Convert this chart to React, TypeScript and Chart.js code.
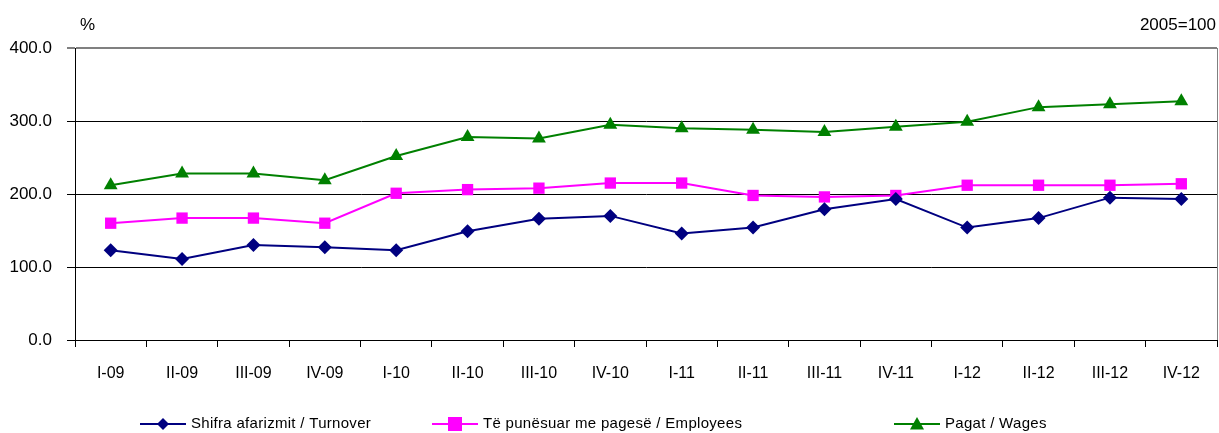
import React, { useEffect, useRef } from "react";
import { Chart, registerables } from "chart.js";

Chart.register(...registerables);

const categories = ["I-09", "II-09", "III-09", "IV-09", "I-10", "II-10", "III-10", "IV-10", "I-11", "II-11", "III-11", "IV-11", "I-12", "II-12", "III-12", "IV-12"];
const turnover = [123, 111, 130, 127, 123, 149, 166, 170, 146, 154, 179, 193, 154, 167, 195, 193];
const employees = [160, 167, 167, 160, 201, 206, 208, 215, 215, 198, 196, 198, 212, 212, 212, 214];
const wages = [212, 228, 228, 219, 252, 278, 276, 295, 290, 288, 285, 292, 299, 319, 323, 327];
const seriesNames = ["Shifra afarizmit / Turnover", "Të punësuar me pagesë / Employees", "Pagat / Wages"];
const yTicks = [0, 100, 200, 300, 400];

const FONT = "'Liberation Sans', Arial, sans-serif";

export default function App() {
  const ref = useRef<HTMLCanvasElement | null>(null);
  useEffect(() => {
    document.body.style.margin = "0";
    const canvas = ref.current!;
    function drawMarker(ctx: CanvasRenderingContext2D, style: string, x: number, y: number, r: number, color: string) {
      ctx.fillStyle = color;
      ctx.beginPath();
      if (style === "rectRot") {
        ctx.moveTo(x, y - r);
        ctx.lineTo(x + r, y);
        ctx.lineTo(x, y + r);
        ctx.lineTo(x - r, y);
      } else if (style === "rect") {
        ctx.rect(x - r, y - r, 2 * r, 2 * r);
      } else {
        ctx.moveTo(x, y - r);
        ctx.lineTo(x + r, y + r * 0.8);
        ctx.lineTo(x - r, y + r * 0.8);
      }
      ctx.closePath();
      ctx.fill();
    }
    const extras = {
      id: "extras",
      afterDraw(chart: any) {
        const ctx = chart.ctx;
        const a = chart.chartArea;
        ctx.save();
        ctx.strokeStyle = "#808080";
        ctx.lineWidth = 1;
        ctx.beginPath();
        ctx.moveTo(a.right + 0.5, a.top);
        ctx.lineTo(a.right + 0.5, a.bottom);
        ctx.stroke();
        ctx.fillStyle = "#000";
        ctx.font = `17px ${FONT}`;
        ctx.textBaseline = "middle";
        ctx.textAlign = "left";
        ctx.fillText("%", 80, 25);
        ctx.textAlign = "right";
        ctx.fillText("2005=100", 1216, 25);
        const items = [
          { x: 140, color: "#000080", style: "rectRot", r: 6, text: seriesNames[0] },
          { x: 432, color: "#FF00FF", style: "rect", r: 7, text: seriesNames[1] },
          { x: 894, color: "#008000", style: "triangle", r: 7, text: seriesNames[2] },
        ];
        const ly = 424;
        ctx.font = `15px ${FONT}`;
        ctx.textAlign = "left";
        (ctx as any).letterSpacing = "0.3px";
        for (const it of items) {
          ctx.strokeStyle = it.color;
          ctx.lineWidth = 2;
          ctx.beginPath();
          ctx.moveTo(it.x, ly);
          ctx.lineTo(it.x + 46, ly);
          ctx.stroke();
          drawMarker(ctx, it.style, it.x + 23, ly, it.r, it.color);
          ctx.fillStyle = "#000";
          ctx.fillText(it.text, it.x + 51, ly);
        }
        ctx.restore();
      },
    };
    const chart = new Chart(canvas, {
      type: "line",
      data: {
        labels: categories,
        datasets: [
          { label: seriesNames[0], data: turnover, borderColor: "#000080", backgroundColor: "#000080", pointStyle: "rectRot", pointRadius: 7, borderWidth: 2, pointBorderWidth: 0 },
          { label: seriesNames[1], data: employees, borderColor: "#FF00FF", backgroundColor: "#FF00FF", pointStyle: "rect", pointRadius: 8, borderWidth: 2, pointBorderWidth: 0 },
          { label: seriesNames[2], data: wages, borderColor: "#008000", backgroundColor: "#008000", pointStyle: "triangle", pointRadius: 8, borderWidth: 2, pointBorderWidth: 0 },
        ],
      },
      options: {
        responsive: false,
        animation: false,
        events: [],
        layout: { autoPadding: false, padding: { top: 48, left: 0, right: 2, bottom: 0 } },
        plugins: { legend: { display: false }, tooltip: { enabled: false } },
        scales: {
          x: {
            offset: true,
            afterFit(scale: any) {
              scale.height = 93;
              scale.paddingLeft = 0;
              scale.paddingRight = 0;
            },
            grid: { offset: true, drawOnChartArea: false, drawTicks: true, tickLength: 7, color: "#000" },
            border: { color: "#000", width: 1 },
            ticks: { color: "#000", font: { family: FONT, size: 16 }, padding: 17, maxRotation: 0, autoSkip: false },
          },
          y: {
            min: 0,
            max: 400,
            afterFit(scale: any) {
              scale.width = 75;
              scale.paddingTop = 0;
              scale.paddingBottom = 0;
            },
            afterBuildTicks(scale: any) { scale.ticks = yTicks.map((v) => ({ value: v })); },
            grid: {
              color: (c: any) => (c.tick && c.tick.value === 400 ? "#808080" : "#000"),
              lineWidth: (c: any) => (c.tick && c.tick.value === 400 ? 2 : 1),
              tickLength: 8,
            },
            border: { color: "#000", width: 1 },
            ticks: {
              color: "#000",
              font: { family: FONT, size: 17 },
              padding: 15,
              callback: (v: any) => Number(v).toFixed(1),
            },
          },
        },
      },
      plugins: [extras],
    });
    return () => chart.destroy();
  }, []);
  return <canvas ref={ref} width={1219} height={433} style={{ display: "block" }} />;
}
